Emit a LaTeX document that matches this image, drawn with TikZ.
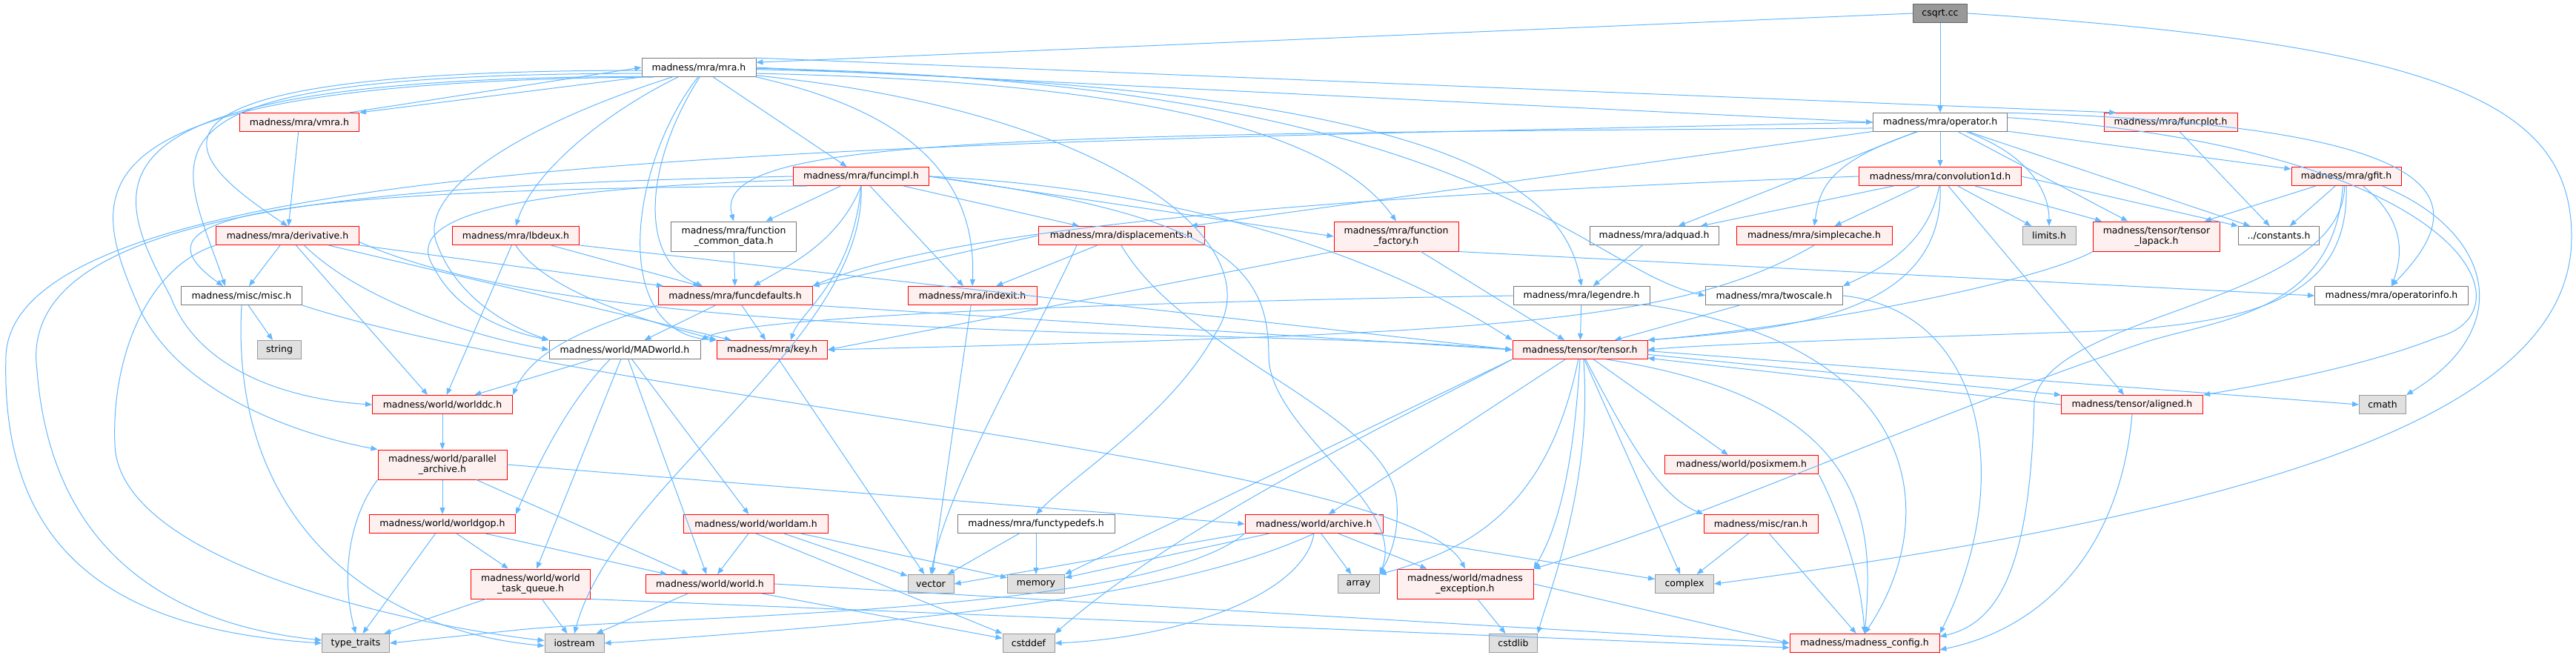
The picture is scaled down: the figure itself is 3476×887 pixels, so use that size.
\documentclass[tikz,border=0pt]{standalone}
\usepackage{fontspec}
\setmainfont{DejaVu Sans}
\definecolor{LinkBlue}{RGB}{99,184,255}
\definecolor{MissRed}{RGB}{255,0,0}
\definecolor{MissFill}{RGB}{255,240,240}
\definecolor{FileGrey}{RGB}{120,120,120}
\definecolor{SysFill}{RGB}{224,224,224}
\definecolor{SysGrey}{RGB}{153,153,153}
\definecolor{RootFill}{RGB}{153,153,153}
\definecolor{RootGrey}{RGB}{102,102,102}
\usetikzlibrary{arrows.meta}

\begin{document}
\begin{tikzpicture}[
        x=1pt, y=-1pt,
        hdr/.style={draw=FileGrey, fill=white, rectangle, line width=1pt, minimum height=25pt, inner xsep=1pt, inner ysep=1pt, align=center, font=\fontsize{12.5}{14}\selectfont},
        twoline/.style={minimum height=40pt},
        redhdr/.style={hdr, draw=MissRed, fill=MissFill},
        syshdr/.style={hdr, draw=SysGrey, fill=SysFill},
        roothdr/.style={hdr, draw=RootGrey, fill=RootFill},
        dep/.style={-{Triangle[length=9pt, width=7pt]}, color=LinkBlue, line width=1pt}
      ]
        \fill [white] (0,0) rectangle (3476,887);
        \useasboundingbox (0,0) rectangle (3476,887);

        \node (csqrt) [roothdr, minimum width=73pt] at (2618,18) {csqrt.cc};
        \node (mra) [hdr, minimum width=154pt] at (943,91) {madness/mra/mra.h};
        \node (vmra) [redhdr, minimum width=161pt] at (404,165) {madness/mra/vmra.h};
        \node (operator) [hdr, minimum width=181pt] at (2618,165) {madness/mra/operator.h};
        \node (funcplot) [redhdr, minimum width=180pt] at (2929,165) {madness/mra/funcplot.h};
        \node (funcimpl) [redhdr, minimum width=183pt] at (1162,238) {madness/mra/funcimpl.h};
        \node (conv) [redhdr, minimum width=219pt] at (2618,238) {madness/mra/convolution1d.h};
        \node (gfit) [redhdr, minimum width=148pt] at (3166,238) {madness/mra/gfit.h};
        \node (derivative) [redhdr, minimum width=193pt] at (388,318) {madness/mra/derivative.h};
        \node (lbdeux) [redhdr, minimum width=171pt] at (696,318) {madness/mra/lbdeux.h};
        \node (fcommon) [hdr, twoline, minimum width=169pt] at (990,319) {madness/mra/function\\\_common\_data.h};
        \node (displacements) [redhdr, minimum width=224pt] at (1513,318) {madness/mra/displacements.h};
        \node (ffactory) [redhdr, twoline, minimum width=168pt] at (1884,319) {madness/mra/function\\\_factory.h};
        \node (adquad) [hdr, minimum width=174pt] at (2232,318) {madness/mra/adquad.h};
        \node (simplecache) [redhdr, minimum width=210pt] at (2448,318) {madness/mra/simplecache.h};
        \node (limits) [syshdr, minimum width=72pt] at (2765,318) {limits.h};
        \node (tlapack) [redhdr, twoline, minimum width=171pt] at (2910,319) {madness/tensor/tensor\\\_lapack.h};
        \node (constants) [hdr, minimum width=109pt] at (3075,318) {../constants.h};
        \node (misc) [hdr, minimum width=163pt] at (326,399) {madness/misc/misc.h};
        \node (funcdefaults) [redhdr, minimum width=208pt] at (992,399) {madness/mra/funcdefaults.h};
        \node (indexit) [redhdr, minimum width=174pt] at (1312,399) {madness/mra/indexit.h};
        \node (legendre) [hdr, minimum width=184pt] at (2134,399) {madness/mra/legendre.h};
        \node (twoscale) [hdr, minimum width=185pt] at (2394,399) {madness/mra/twoscale.h};
        \node (operatorinfo) [hdr, minimum width=207pt] at (3227,399) {madness/mra/operatorinfo.h};
        \node (string) [syshdr, minimum width=59pt] at (377,472) {string};
        \node (MADworld) [hdr, minimum width=204pt] at (843,472) {madness/world/MADworld.h};
        \node (key) [redhdr, minimum width=149pt] at (1042,472) {madness/mra/key.h};
        \node (tensor) [redhdr, minimum width=182pt] at (2132,472) {madness/tensor/tensor.h};
        \node (worlddc) [redhdr, minimum width=189pt] at (597,546) {madness/world/worlddc.h};
        \node (aligned) [redhdr, minimum width=191pt] at (2877,546) {madness/tensor/aligned.h};
        \node (cmath) [syshdr, minimum width=63pt] at (3215,546) {cmath};
        \node (parchive) [redhdr, twoline, minimum width=174pt] at (597,627) {madness/world/parallel\\\_archive.h};
        \node (posixmem) [redhdr, minimum width=207pt] at (2350,627) {madness/world/posixmem.h};
        \node (worldgop) [redhdr, minimum width=197pt] at (597,707) {madness/world/worldgop.h};
        \node (worldam) [redhdr, minimum width=195pt] at (1020,707) {madness/world/worldam.h};
        \node (functypedefs) [hdr, minimum width=212pt] at (1398,707) {madness/mra/functypedefs.h};
        \node (archive) [redhdr, minimum width=186pt] at (1773,707) {madness/world/archive.h};
        \node (ran) [redhdr, minimum width=154pt] at (2376,707) {madness/misc/ran.h};
        \node (taskq) [redhdr, twoline, minimum width=161pt] at (716,788) {madness/world/world\\\_task\_queue.h};
        \node (world) [redhdr, minimum width=173pt] at (958,788) {madness/world/world.h};
        \node (vector) [syshdr, minimum width=62pt] at (1256,788) {vector};
        \node (memory) [syshdr, minimum width=77pt] at (1398,788) {memory};
        \node (array) [syshdr, minimum width=56pt] at (1833,788) {array};
        \node (mexception) [redhdr, twoline, minimum width=184pt] at (1977,788) {madness/world/madness\\\_exception.h};
        \node (complex) [syshdr, minimum width=79pt] at (2273,788) {complex};
        \node (typetraits) [syshdr, minimum width=91pt] at (480,868) {type\_traits};
        \node (iostream) [syshdr, minimum width=80pt] at (775,868) {iostream};
        \node (cstddef) [syshdr, minimum width=70pt] at (1388,868) {cstddef};
        \node (cstdlib) [syshdr, minimum width=65pt] at (2042,868) {cstdlib};
        \node (mconfig) [redhdr, minimum width=202pt] at (2516,868) {madness/madness\_config.h};

        \draw [dep] (csqrt.west) -- (mra.5);
        \draw [dep] (csqrt) -- (operator);
        \draw [dep] (csqrt.east) .. controls (3300,60) and (3470,140) .. (3470,320) .. controls (3470,560) and (3050,690) .. (complex.east);

        \draw [dep] (mra.south west) -- (vmra.north east);
        \draw [dep] ([xshift=-14pt]vmra.north east) -- (mra.west);
        \draw [dep] (mra.0) -- (operator.west);
        \draw [dep] (mra.10) -- (funcplot.170);
        \draw [dep] (mra) -- (funcimpl);
        \draw [dep] (mra.183) .. controls (100,95) and (260,220) .. (derivative.north);
        \draw [dep] (mra.186) .. controls (150,100) and (240,200) .. ([xshift=-22pt]misc.north);
        \draw [dep] (mra.189) .. controls (80,105) and (150,250) .. (230,400) .. controls (270,505) and (400,540) .. (worlddc.west);
        \draw [dep] (mra.192) .. controls (60,110) and (120,260) .. (190,420) .. controls (250,540) and (420,590) .. (parchive.north west);
        \draw [dep] (mra.200) .. controls (700,170) and (560,260) .. (590,330) .. controls (620,410) and (700,445) .. (MADworld.north west);
        \draw [dep] (mra.205) .. controls (820,150) and (720,230) .. (lbdeux.north);
        \draw [dep] (mra.265) .. controls (850,220) and (820,450) .. (key.north west);
        \draw [dep] (mra.275) .. controls (870,220) and (860,350) .. ([xshift=-44pt]funcdefaults.north);
        \draw [dep] (mra.south east) .. controls (1180,140) and (1320,210) .. (indexit.north);
        \draw [dep] (mra.-6) .. controls (1550,110) and (1800,180) .. (ffactory.north);
        \draw [dep] (mra.-2) .. controls (1950,115) and (2110,250) .. (legendre.north);
        \draw [dep] (mra.-1) .. controls (2000,110) and (2130,360) .. (twoscale.west);
        \draw [dep] (mra.-8) .. controls (1500,150) and (1720,330) .. (1640,450) .. controls (1580,560) and (1450,640) .. (functypedefs.north);

        \draw [dep] (vmra) -- (derivative);

        \draw [dep] (operator) -- (conv);
        \draw [dep] (operator) -- (gfit);
        \draw [dep] (operator) -- (adquad);
        \draw [dep] (operator.203) .. controls (2460,220) and (2455,260) .. (simplecache.north);
        \draw [dep] (operator.-20) .. controls (2740,210) and (2765,260) .. (limits.north);
        \draw [dep] (operator) -- (tlapack);
        \draw [dep] (operator) -- (constants);
        \draw [dep] (operator.8) .. controls (3350,170) and (3330,280) .. (operatorinfo.north);
        \draw [dep] (operator.4) .. controls (3330,200) and (3420,420) .. (3290,455) .. controls (3190,495) and (3050,520) .. (aligned.north east);
        \draw [dep] (operator.185) .. controls (1300,180) and (960,190) .. (fcommon.north);
        \draw [dep] (operator.west) .. controls (1200,195) and (20,200) .. (8,480) .. controls (0,750) and (160,850) .. (typetraits.west);
        \draw [dep] (operator) -- (displacements);

        \draw [dep] (funcplot) -- (constants);

        \draw [dep] (funcimpl) -- (fcommon);
        \draw [dep] (funcimpl.south) .. controls (1130,330) and (1060,360) .. ([xshift=25pt]funcdefaults.north);
        \draw [dep] (funcimpl) -- (indexit);
        \draw [dep] (funcimpl) -- (displacements);
        \draw [dep] (funcimpl.east) -- (ffactory.west);
        \draw [dep] (funcimpl.south) .. controls (1150,380) and (1080,420) .. ([xshift=25pt]key.north);
        \draw [dep] (funcimpl.east) .. controls (1700,260) and (1950,400) .. (tensor.north west);
        \draw [dep] (funcimpl.west) .. controls (500,250) and (20,280) .. (50,500) .. controls (70,760) and (250,845) .. (typetraits.175);
        \draw [dep] (funcimpl.190) .. controls (300,255) and (180,300) .. ([xshift=-25pt]misc.north);
        \draw [dep] (funcimpl.183) .. controls (700,255) and (540,290) .. (585,360) .. controls (620,430) and (700,450) .. (MADworld.north west);
        \draw [dep] (funcimpl.south) .. controls (1170,460) and (830,650) .. (iostream.north);
        \draw [dep] (funcimpl.east) .. controls (1650,290) and (1712,360) .. (1712,480) .. controls (1712,580) and (1900,680) .. (array.north east);

        \draw [dep] (derivative) -- (misc);
        \draw [dep] (derivative.south west) .. controls (200,360) and (150,480) .. (155,600) .. controls (160,760) and (560,845) .. (iostream.175);
        \draw [dep] (derivative) -- ([xshift=-20pt]worlddc.north);
        \draw [dep] (derivative.-30) .. controls (480,400) and (620,450) .. (MADworld.west);
        \draw [dep] (derivative) -- (key);
        \draw [dep] (derivative) -- (funcdefaults);
        \draw [dep] (derivative.-5) .. controls (800,470) and (1700,440) .. (tensor.west);

        \draw [dep] (lbdeux) -- (funcdefaults);
        \draw [dep] (lbdeux.south) .. controls (740,400) and (900,440) .. (key.north west);
        \draw [dep] (lbdeux) -- (worlddc);
        \draw [dep] (lbdeux.south east) -- (tensor.west);

        \draw [dep] (fcommon) -- (funcdefaults);

        \draw [dep] (displacements) -- (indexit);
        \draw [dep] (displacements.west) -- (funcdefaults.north east);
        \draw [dep] ([xshift=-60pt]displacements.south) .. controls (1400,450) and (1280,650) .. (vector.north);
        \draw [dep] (displacements.south) .. controls (1600,480) and (1880,560) .. (1885,680) .. controls (1888,730) and (1870,760) .. (array.north east);

        \draw [dep] (ffactory) -- (tensor);
        \draw [dep] (ffactory.south west) -- (key.east);
        \draw [dep] (ffactory.south east) -- (operatorinfo.west);

        \draw [dep] (adquad) -- (legendre);
        \draw [dep] (simplecache.south) .. controls (2260,440) and (2000,450) .. (key.east);

        \draw [dep] (conv) -- (adquad);
        \draw [dep] (conv) -- (simplecache);
        \draw [dep] (conv) -- (limits);
        \draw [dep] (conv) -- (tlapack);
        \draw [dep] (conv.east) -- (constants.north west);
        \draw [dep] (conv.265) .. controls (2600,340) and (2520,370) .. (twoscale.north east);
        \draw [dep] (conv.south) .. controls (2625,430) and (2400,445) .. (tensor.north east);
        \draw [dep] (conv) -- (aligned);
        \draw [dep] (conv.west) .. controls (1900,260) and (1300,300) .. (funcdefaults.north east);

        \draw [dep] (gfit) -- (tlapack);
        \draw [dep] (gfit) -- (constants);
        \draw [dep] (gfit.-30) .. controls (3250,300) and (3240,350) .. (operatorinfo.north);
        \draw [dep] (gfit.-15) .. controls (3360,310) and (3400,440) .. (cmath.north east);
        \draw [dep] (gfit.south) .. controls (3170,400) and (3050,440) .. (2800,448) .. controls (2500,458) and (2300,465) .. (tensor.east);
        \draw [dep] (gfit.260) .. controls (3160,410) and (2770,420) .. (2745,540) .. controls (2740,760) and (2700,840) .. (mconfig.5);
        \draw [dep] (gfit.250) .. controls (3150,420) and (3000,430) .. (2900,460) .. controls (2600,560) and (2300,700) .. (mexception.north east);

        \draw [dep] (tlapack.south west) .. controls (2750,380) and (2450,440) .. (tensor.north east);

        \draw [dep] (legendre) -- (tensor);
        \draw [dep] (legendre.west) .. controls (1400,410) and (1000,430) .. (MADworld.north east);
        \draw [dep] (legendre.south east) .. controls (2600,470) and (2620,700) .. (mconfig.north);

        \draw [dep] (twoscale) -- (tensor);
        \draw [dep] (twoscale.east) .. controls (2680,420) and (2720,650) .. (mconfig.north east);

        \draw [dep] (misc) -- (string);
        \draw [dep] (misc.south) .. controls (310,700) and (500,850) .. (iostream.185);
        \draw [dep] (misc.south east) .. controls (800,540) and (1900,620) .. (mexception.north);

        \draw [dep] (funcdefaults) -- (MADworld);
        \draw [dep] (funcdefaults) -- (key);
        \draw [dep] (funcdefaults.south west) .. controls (800,440) and (720,470) .. (worlddc.north east);
        \draw [dep] (funcdefaults.south east) -- (tensor.west);

        \draw [dep] (indexit) -- (vector);

        \draw [dep] (MADworld) -- (worlddc);
        \draw [dep] ([xshift=-20pt]MADworld.south) .. controls (760,550) and (720,640) .. (worldgop.north east);
        \draw [dep] (MADworld) -- (taskq);
        \draw [dep] (MADworld) -- (world);
        \draw [dep] (MADworld) -- (worldam);

        \draw [dep] (key) -- (vector);

        \draw [dep] (tensor.-4) -- (aligned.north west);
        \draw [dep] (aligned.west) -- (tensor.-7);
        \draw [dep] (tensor.-1) -- (cmath.west);
        \draw [dep] (tensor) -- (posixmem);
        \draw [dep] (tensor.-60) .. controls (2200,600) and (2240,670) .. (ran.north west);
        \draw [dep] (tensor) -- (complex);
        \draw [dep] (tensor.-20) .. controls (2520,540) and (2530,700) .. (mconfig.north);
        \draw [dep] (tensor) -- (archive);
        \draw [dep] (tensor.south west) -- (memory.north east);
        \draw [dep] (tensor.south west) .. controls (1900,560) and (1600,700) .. (cstddef.north east);
        \draw [dep] (tensor.260) .. controls (2090,680) and (1990,740) .. (array.north east);
        \draw [dep] (tensor.south) .. controls (2125,600) and (2110,700) .. (mexception.north east);
        \draw [dep] (tensor.-70) .. controls (2150,650) and (2090,800) .. (cstdlib.north east);

        \draw [dep] (aligned.south) .. controls (2860,750) and (2750,850) .. (mconfig.-5);

        \draw [dep] (worlddc) -- (parchive);
        \draw [dep] (parchive) -- (worldgop);
        \draw [dep] (parchive.south west) .. controls (470,700) and (460,780) .. (typetraits.north);
        \draw [dep] (parchive.east) -- (archive.west);
        \draw [dep] (parchive) -- (world);

        \draw [dep] (posixmem.south east) .. controls (2470,670) and (2510,760) .. (mconfig.north);

        \draw [dep] (worldgop) -- (typetraits);
        \draw [dep] (worldgop) -- (taskq);
        \draw [dep] (worldgop) -- (world);

        \draw [dep] (worldam) -- (world);
        \draw [dep] (worldam) -- (vector);
        \draw [dep] (worldam) -- (memory);
        \draw [dep] (worldam.south) -- (cstddef.north west);

        \draw [dep] (functypedefs) -- (vector);
        \draw [dep] (functypedefs) -- (memory);

        \draw [dep] (archive.south west) -- (vector.east);
        \draw [dep] (archive) -- (memory);
        \draw [dep] (archive) -- (array);
        \draw [dep] (archive) -- (mexception);
        \draw [dep] (archive) -- (complex);
        \draw [dep] (archive.south) .. controls (1760,800) and (1600,860) .. (cstddef.east);
        \draw [dep] (archive.south) .. controls (1600,800) and (1300,835) .. (iostream.east);
        \draw [dep] (archive.south west) .. controls (1550,830) and (900,830) .. (700,850) -- (typetraits.east);

        \draw [dep] (ran) -- (mconfig);
        \draw [dep] (ran) -- (complex);

        \draw [dep] (taskq) -- (typetraits);
        \draw [dep] (taskq) -- (iostream);
        \draw [dep] (taskq.south east) -- ([yshift=-6pt]mconfig.west);

        \draw [dep] (world) -- (iostream);
        \draw [dep] (world) -- (cstddef);
        \draw [dep] (world.east) -- (mconfig.west);

        \draw [dep] (mexception) -- (cstdlib);
        \draw [dep] (mexception.east) -- (mconfig.west);
      \end{tikzpicture}
\end{document}
